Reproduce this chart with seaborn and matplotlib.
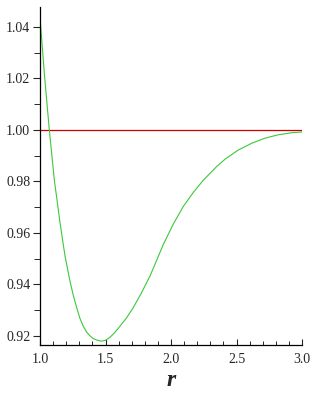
import numpy as np
import pandas as pd
import seaborn as sns
import matplotlib.pyplot as plt
from matplotlib.ticker import MultipleLocator, FormatStrFormatter

# values
r_vals = [1.000, 1.033, 1.071, 1.109, 1.153, 1.191, 1.230, 1.254, 1.280, 1.305,
          1.330, 1.356, 1.382, 1.407, 1.440, 1.471, 1.500, 1.534, 1.566, 1.598,
          1.660, 1.712, 1.775, 1.840, 1.900, 1.941, 2.018, 2.094, 2.170, 2.247,
          2.349, 2.412, 2.514, 2.616, 2.718, 2.819, 2.921, 3.000]
f_vals = [1.0437, 1.0219, 1.0000, 0.9807, 0.9639, 0.9510, 0.9410, 0.9358, 0.9310, 0.9268,
          0.9238, 0.9215, 0.9200, 0.9190, 0.9183, 0.9180, 0.9183, 0.9195, 0.9211, 0.9230,
          0.9270, 0.9310, 0.9368, 0.9433, 0.9505, 0.9555, 0.9635, 0.9703, 0.9757, 0.9805,
          0.9858, 0.9886, 0.9922, 0.9948, 0.9968, 0.9981, 0.9989, 0.9992]
ref_r = [1.0, 3.0]
ref_f = [1.0, 1.0]

sns.set_style("white")
plt.rcParams['font.family'] = ['Liberation Serif', 'DejaVu Serif']

df = pd.DataFrame({"r": r_vals, "f": f_vals})
ref = pd.DataFrame({"r": ref_r, "f": ref_f})

fig = plt.figure(figsize=(3.16, 4.0), dpi=100)
ax = fig.add_axes([0.1266, 0.1375, 0.8291, 0.845])

sns.lineplot(data=ref, x="r", y="f", ax=ax, color="#c80000", linewidth=0.9)
sns.lineplot(data=df, x="r", y="f", ax=ax, color="#3cc83c", linewidth=0.8)

ax.set_xlim(1.0, 3.0)
ax.set_ylim(0.9165, 1.0477)

for s in ["top", "right"]:
    ax.spines[s].set_visible(False)
for s in ["left", "bottom"]:
    ax.spines[s].set_color("black")
    ax.spines[s].set_linewidth(0.9)

ax.xaxis.set_major_locator(MultipleLocator(0.5))
ax.xaxis.set_minor_locator(MultipleLocator(0.1))
ax.yaxis.set_major_locator(MultipleLocator(0.02))
ax.yaxis.set_minor_locator(MultipleLocator(0.01))
ax.xaxis.set_major_formatter(FormatStrFormatter('%.1f'))
ax.yaxis.set_major_formatter(FormatStrFormatter('%.2f'))

ax.tick_params(axis="x", which="major", direction="in", length=4, width=0.8, labelsize=10, pad=6)
ax.tick_params(axis="x", which="minor", direction="in", length=3, width=0.7)
ax.tick_params(axis="y", which="major", direction="out", length=5, width=0.8, labelsize=10, pad=2)
ax.tick_params(axis="y", which="minor", direction="out", length=4, width=0.7)
ax.tick_params(bottom=True, left=True, which="both")

ax.set_xlabel("r", fontsize=17, fontweight="bold", fontstyle="italic", labelpad=3)
ax.set_ylabel("")

fig.savefig("out.png", dpi=100)
